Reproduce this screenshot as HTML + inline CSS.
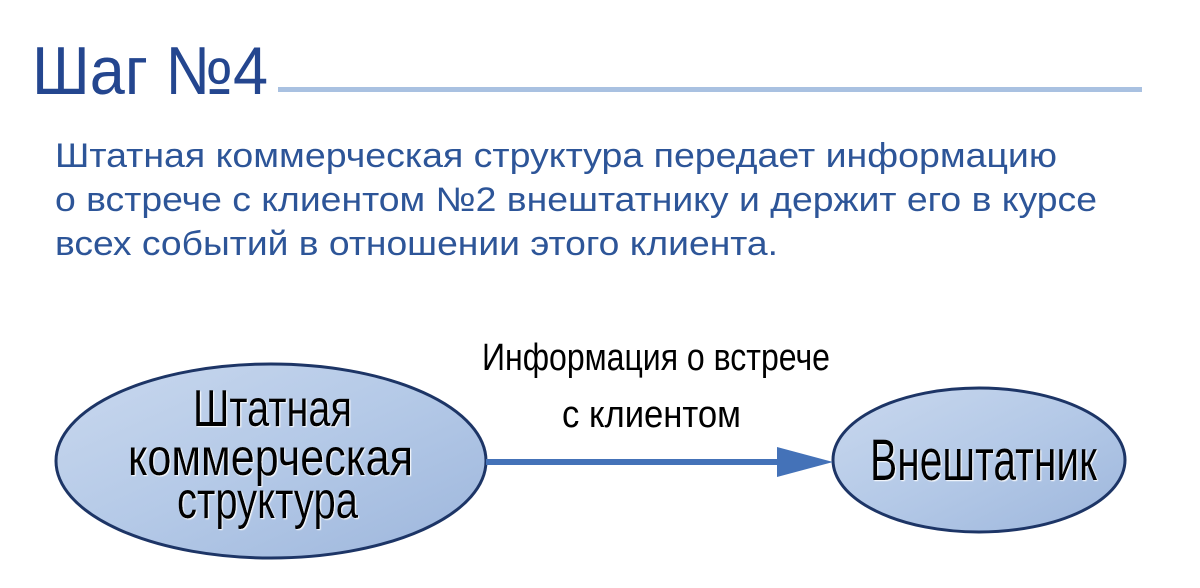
<!DOCTYPE html>
<html><head><meta charset="utf-8"><style>
html,body{margin:0;padding:0;background:#fff;}
svg{display:block;}
</style></head><body>
<svg width="1200" height="588" viewBox="0 0 1200 588" xmlns="http://www.w3.org/2000/svg">
<defs>
<linearGradient id="g" x1="0" y1="0" x2="1" y2="1">
<stop offset="0" stop-color="#c9d8ee"/>
<stop offset="0.5" stop-color="#b4c9e7"/>
<stop offset="1" stop-color="#9db6dc"/>
</linearGradient>
<filter id="sh"><feDropShadow dx="1" dy="1" stdDeviation="0.6" flood-color="#fff" flood-opacity="1"/></filter>
</defs>
<text x="32" y="94" font-family="Liberation Sans, sans-serif" font-size="68" fill="#24468f" textLength="236" lengthAdjust="spacingAndGlyphs">Шаг №4</text>
<rect x="278" y="87" width="864" height="5" fill="#a9c1e1"/>
<g font-family="Liberation Sans, sans-serif" font-size="34" fill="#2d5598">
<text x="55" y="167" textLength="1002" lengthAdjust="spacingAndGlyphs">Штатная коммерческая структура передает информацию</text>
<text x="55" y="211" textLength="1042" lengthAdjust="spacingAndGlyphs">о встрече с клиентом №2 внештатнику и держит его в курсе</text>
<text x="55" y="255" textLength="723" lengthAdjust="spacingAndGlyphs">всех событий в отношении этого клиента.</text>
</g>
<ellipse cx="271" cy="461" rx="215" ry="97" fill="url(#g)" stroke="#1d3566" stroke-width="3"/>
<ellipse cx="979" cy="460" rx="146" ry="72" fill="url(#g)" stroke="#1d3566" stroke-width="3"/>
<rect x="486" y="459" width="292" height="6" fill="#4472b8"/>
<polygon points="777,447 833,462 777,477" fill="#4472b8"/>
<g font-family="Liberation Sans Narrow, Liberation Sans, sans-serif" fill="#000">
<text x="482" y="370" font-size="38" textLength="348" lengthAdjust="spacingAndGlyphs">Информация о встрече</text>
<text x="562" y="427" font-size="38" textLength="179" lengthAdjust="spacingAndGlyphs">с клиентом</text>
<g filter="url(#sh)" font-size="52">
<text x="193" y="426" textLength="159" lengthAdjust="spacingAndGlyphs">Штатная</text>
<text x="128" y="475" textLength="285" lengthAdjust="spacingAndGlyphs">коммерческая</text>
<text x="177" y="518" textLength="181" lengthAdjust="spacingAndGlyphs">структура</text>
<text x="870" y="480" font-size="58" textLength="227" lengthAdjust="spacingAndGlyphs">Внештатник</text>
</g>
</g>
</svg>
</body></html>
